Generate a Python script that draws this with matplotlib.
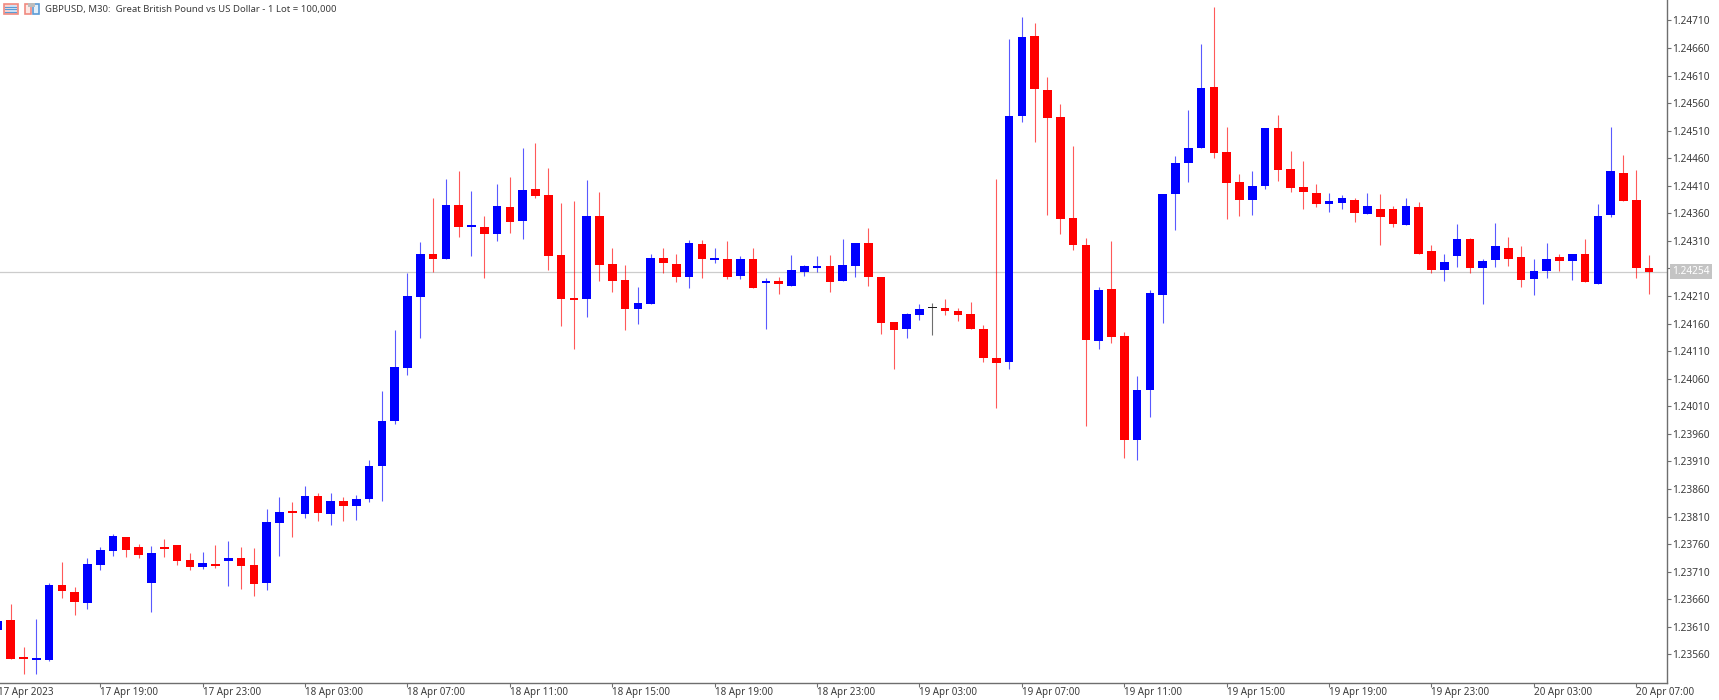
import matplotlib
matplotlib.use('Agg')
import matplotlib.pyplot as plt
from matplotlib.patches import Rectangle
import numpy as np

# GBPUSD M30 candles, oldest first
opens = [
    1.23604, 1.23622, 1.23554, 1.23549, 1.23550, 1.23685, 1.23674, 1.23653, 1.23723, 1.23748,
    1.23773, 1.23754, 1.23690, 1.23754, 1.23758, 1.23731, 1.23718, 1.23724, 1.23729, 1.23734,
    1.23723, 1.23690, 1.23799, 1.23819, 1.23815, 1.23847, 1.23815, 1.23838, 1.23829, 1.23841,
    1.23902, 1.23984, 1.24080, 1.24209, 1.24287, 1.24278, 1.24376, 1.24335, 1.24336, 1.24322,
    1.24371, 1.24347, 1.24405, 1.24393, 1.24284, 1.24206, 1.24205, 1.24355, 1.24268, 1.24239,
    1.24186, 1.24196, 1.24279, 1.24269, 1.24244, 1.24305, 1.24276, 1.24278, 1.24247, 1.24278,
    1.24234, 1.24238, 1.24229, 1.24254, 1.24261, 1.24265, 1.24238, 1.24264, 1.24306, 1.24245,
    1.24163, 1.24150, 1.24175, 1.24188, 1.24189, 1.24182, 1.24177, 1.24150, 1.24097, 1.24091,
    1.24536, 1.24682, 1.24584, 1.24535, 1.24351, 1.24302, 1.24128, 1.24223, 1.24137, 1.23948,
    1.24039, 1.24212, 1.24395, 1.24452, 1.24479, 1.24590, 1.24471, 1.24417, 1.24385, 1.24410,
    1.24515, 1.24441, 1.24408, 1.24397, 1.24377, 1.24379, 1.24385, 1.24358, 1.24368, 1.24367,
    1.24338, 1.24371, 1.24291, 1.24257, 1.24282, 1.24313, 1.24260, 1.24276, 1.24298, 1.24280,
    1.24241, 1.24255, 1.24281, 1.24273, 1.24286, 1.24232, 1.24357, 1.24434, 1.24384, 1.24261,
]
highs = [
    1.23622, 1.23652, 1.23573, 1.23625, 1.23689, 1.23727, 1.23683, 1.23734, 1.23754, 1.23778,
    1.23773, 1.23761, 1.23756, 1.23769, 1.23758, 1.23744, 1.23746, 1.23758, 1.23766, 1.23754,
    1.23753, 1.23824, 1.23845, 1.23836, 1.23866, 1.23853, 1.23852, 1.23845, 1.23850, 1.23912,
    1.24038, 1.24148, 1.24252, 1.24308, 1.24387, 1.24423, 1.24436, 1.24400, 1.24355, 1.24413,
    1.24426, 1.24478, 1.24488, 1.24442, 1.24379, 1.24382, 1.24420, 1.24399, 1.24297, 1.24266,
    1.24226, 1.24287, 1.24297, 1.24287, 1.24312, 1.24312, 1.24297, 1.24309, 1.24283, 1.24297,
    1.24242, 1.24245, 1.24284, 1.24267, 1.24283, 1.24284, 1.24313, 1.24306, 1.24333, 1.24245,
    1.24163, 1.24180, 1.24196, 1.24197, 1.24205, 1.24188, 1.24200, 1.24157, 1.24422, 1.24677,
    1.24717, 1.24705, 1.24607, 1.24558, 1.24482, 1.24316, 1.24226, 1.24309, 1.24145, 1.24065,
    1.24221, 1.24396, 1.24464, 1.24547, 1.24667, 1.24734, 1.24516, 1.24431, 1.24437, 1.24514,
    1.24538, 1.24474, 1.24455, 1.24413, 1.24397, 1.24394, 1.24387, 1.24397, 1.24396, 1.24373,
    1.24387, 1.24381, 1.24302, 1.24286, 1.24341, 1.24315, 1.24277, 1.24342, 1.24318, 1.24301,
    1.24277, 1.24306, 1.24286, 1.24286, 1.24313, 1.24377, 1.24516, 1.24466, 1.24438, 1.24284,
]
lows = [
    1.23603, 1.23552, 1.23525, 1.23524, 1.23548, 1.23663, 1.23631, 1.23643, 1.23713, 1.23739,
    1.23736, 1.23734, 1.23637, 1.23737, 1.23723, 1.23713, 1.23715, 1.23717, 1.23684, 1.23678,
    1.23665, 1.23676, 1.23739, 1.23773, 1.23807, 1.23802, 1.23794, 1.23802, 1.23804, 1.23836,
    1.23838, 1.23978, 1.24067, 1.24133, 1.24254, 1.24278, 1.24318, 1.24283, 1.24243, 1.24310,
    1.24324, 1.24313, 1.24388, 1.24257, 1.24155, 1.24114, 1.24172, 1.24238, 1.24218, 1.24148,
    1.24160, 1.24196, 1.24251, 1.24236, 1.24225, 1.24242, 1.24270, 1.24241, 1.24241, 1.24225,
    1.24151, 1.24213, 1.24229, 1.24247, 1.24254, 1.24217, 1.24238, 1.24244, 1.24228, 1.24141,
    1.24078, 1.24134, 1.24166, 1.24140, 1.24175, 1.24165, 1.24150, 1.24091, 1.24007, 1.24078,
    1.24526, 1.24489, 1.24357, 1.24323, 1.24294, 1.23975, 1.24114, 1.24125, 1.23917, 1.23913,
    1.23991, 1.24162, 1.24330, 1.24417, 1.24479, 1.24461, 1.24350, 1.24356, 1.24357, 1.24405,
    1.24419, 1.24399, 1.24368, 1.24371, 1.24363, 1.24368, 1.24344, 1.24358, 1.24302, 1.24336,
    1.24338, 1.24287, 1.24251, 1.24237, 1.24263, 1.24252, 1.24196, 1.24263, 1.24264, 1.24226,
    1.24212, 1.24243, 1.24256, 1.24239, 1.24235, 1.24232, 1.24353, 1.24383, 1.24243, 1.24214,
]
closes = [
    1.23621, 1.23552, 1.23552, 1.23553, 1.23685, 1.23675, 1.23655, 1.23724, 1.23750, 1.23775,
    1.23750, 1.23740, 1.23744, 1.23752, 1.23729, 1.23719, 1.23726, 1.23721, 1.23734, 1.23721,
    1.23688, 1.23801, 1.23818, 1.23817, 1.23847, 1.23816, 1.23839, 1.23830, 1.23841, 1.23902,
    1.23984, 1.24081, 1.24210, 1.24287, 1.24278, 1.24376, 1.24336, 1.24338, 1.24322, 1.24374,
    1.24344, 1.24403, 1.24391, 1.24283, 1.24205, 1.24203, 1.24355, 1.24266, 1.24238, 1.24186,
    1.24197, 1.24279, 1.24270, 1.24245, 1.24307, 1.24277, 1.24279, 1.24244, 1.24278, 1.24225,
    1.24235, 1.24231, 1.24258, 1.24264, 1.24264, 1.24235, 1.24267, 1.24306, 1.24245, 1.24161,
    1.24148, 1.24177, 1.24186, 1.24188, 1.24183, 1.24175, 1.24150, 1.24097, 1.24089, 1.24536,
    1.24679, 1.24586, 1.24533, 1.24350, 1.24303, 1.24131, 1.24221, 1.24136, 1.23948, 1.24039,
    1.24216, 1.24396, 1.24452, 1.24478, 1.24588, 1.24469, 1.24415, 1.24385, 1.24410, 1.24514,
    1.24438, 1.24406, 1.24398, 1.24377, 1.24382, 1.24387, 1.24360, 1.24374, 1.24353, 1.24341,
    1.24373, 1.24287, 1.24258, 1.24271, 1.24313, 1.24260, 1.24273, 1.24300, 1.24277, 1.24240,
    1.24255, 1.24278, 1.24273, 1.24286, 1.24235, 1.24355, 1.24436, 1.24383, 1.24261, 1.24254,
]

last_price = 1.24254
tick_prices = [1.23560, 1.23610, 1.23660, 1.23710, 1.23760, 1.23810, 1.23860, 1.23910,
               1.23960, 1.24010, 1.24060, 1.24110, 1.24160, 1.24210, 1.24260, 1.24310,
               1.24360, 1.24410, 1.24460, 1.24510, 1.24560, 1.24610, 1.24660, 1.24710]
tick_bars = [0, 8, 16, 24, 32, 40, 48, 56, 64, 72, 80, 88, 96, 104, 112, 120, 128]
tick_times = ['17 Apr 2023', '17 Apr 19:00', '17 Apr 23:00', '18 Apr 03:00', '18 Apr 07:00',
              '18 Apr 11:00', '18 Apr 15:00', '18 Apr 19:00', '18 Apr 23:00', '19 Apr 03:00',
              '19 Apr 07:00', '19 Apr 11:00', '19 Apr 15:00', '19 Apr 19:00', '19 Apr 23:00',
              '20 Apr 03:00', '20 Apr 07:00']
title = 'GBPUSD, M30:  Great British Pound vs US Dollar - 1 Lot = 100,000'

plt.rcParams['font.family'] = ['Noto Sans', 'DejaVu Sans']
TEXT = '#3c3c3c'
AXIS = '#6e6e6e'

W, H = 1719, 700
fig = plt.figure(figsize=(W / 100, H / 100), dpi=100)
ax = fig.add_axes([0, 1 - 682.5 / H, 1667 / W, 682.5 / H])
ax.set_xlim(0.164, 130.4)
ax.set_ylim(1.23509, 1.24747)

o, h, l, c = map(np.array, (opens, highs, lows, closes))
x = np.arange(len(c))
colors = ['#0000ff' if b > a else '#ff0000' if b < a else '#202020' for a, b in zip(o, c)]

ax.axhline(last_price, color='#cccccc', lw=0.9, zorder=1)
ax.vlines(x, l, h, colors=colors, lw=0.8, alpha=0.65, zorder=2)
# the black doji has no body height of its own, keep a thin bar so it still shows
ax.bar(x, np.maximum(np.abs(c - o), 0.00003), bottom=np.minimum(o, c), width=0.68,
       color=colors, lw=0, zorder=3)

for side in ('top', 'left'):
    ax.spines[side].set_visible(False)
for side in ('right', 'bottom'):
    ax.spines[side].set_color(AXIS)
    ax.spines[side].set_linewidth(1.0)

ax.yaxis.tick_right()
ax.set_yticks(tick_prices)
ax.set_yticklabels([f'{p:.5f}' for p in tick_prices])
ax.tick_params(axis='y', length=3, width=0.8, color=AXIS, labelsize=7.3, labelcolor=TEXT, pad=1)
ax.set_xticks(tick_bars[1:])
ax.set_xticklabels([])
ax.tick_params(axis='x', length=3, width=0.8, color=AXIS)

# time labels hang off the right of their tick, first one is cut by the frame
for b, lab in zip(tick_bars, tick_times):
    ax.annotate(lab, xy=(b, 0), xycoords=ax.get_xaxis_transform(), xytext=(0, -4.5),
                textcoords='offset pixels', ha='left', va='top', fontsize=7.1,
                color=TEXT, annotation_clip=False)

ax.annotate(f'{last_price:.5f}', xy=(1, last_price), xycoords=ax.get_yaxis_transform(),
            xytext=(5, 0), textcoords='offset pixels', ha='left', va='center', fontsize=7.3,
            color='white', annotation_clip=False, zorder=6,
            bbox=dict(boxstyle='square,pad=0.2', fc='#c4c4c4', ec='none'))

# header line: the two small toolbar icons and the symbol text
top = fig.add_axes([0, 0, 1, 1], facecolor='none')
top.set_xlim(0, W)
top.set_ylim(H, 0)
top.axis('off')
top.add_patch(Rectangle((3.5, 3.5), 14, 10.5, fc='#fbd5d0', ec='#f08a80', lw=1.2))
top.add_patch(Rectangle((10, 5), 6, 7.5, fc='#cfe3f7', ec='none'))
for yy in (6.5, 9, 11.5):
    top.plot([5, 16], [yy, yy], color='#5b9bd5', lw=0.8)
top.add_patch(Rectangle((24.5, 4), 6, 10, fc='#fde8e5', ec='#f08a80', lw=1.2))
top.add_patch(Rectangle((32.5, 4), 6, 10, fc='#e3f0fb', ec='#5b9bd5', lw=1.2))
top.add_patch(Rectangle((28, 3), 7, 4, fc='#bdbdbd', ec='none'))
top.text(45, 9.5, title, fontsize=6.9, color=TEXT, ha='left', va='center')

fig.savefig('out.png', dpi=100)
